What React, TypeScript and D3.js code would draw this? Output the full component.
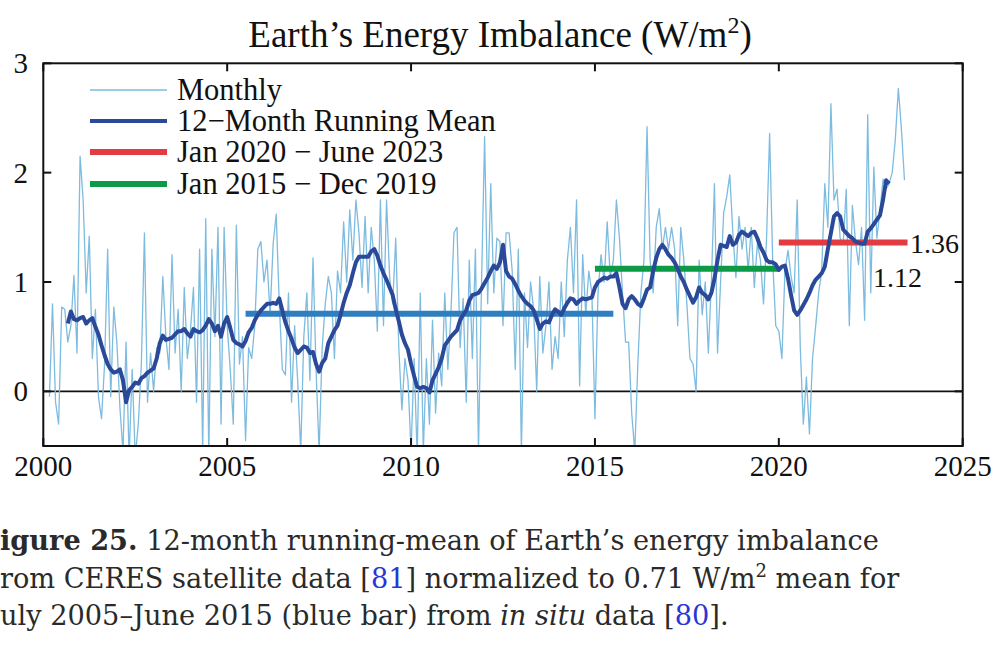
import React from "react";
import * as d3 from "d3";

// ---------- DATA ----------
// Monthly values, March 2000 .. June 2023 (W/m^2)
const monthlyStart = { year: 2000, month: 3 };
const monthly2000 = [-0.05, 0.8, -0.1, -0.3, 0.77, 0.75, 0.45, 0.6, 1.06, 0.35];
const monthly2001 = [2.15, 1.75, 0.9, 1.42, 0.3, 0.75, -0.05, -0.25, 0.25, 1.3, -0.05, 0.77];
const monthly2002 = [0.45, -0.15, -0.55, 0.45, -0.6, 0.2, -0.6, -0.3, 0.25, 1.45, -0.1, 0.35];
const monthly2003 = [0.0, 0.4, 0.35, 1.05, 0.5, 0.2, 1.25, 0.35, 0.75, 0.0, 0.95, 0.3];
const monthly2004 = [0.55, 0.95, -0.1, 1.3, -0.55, 1.58, -0.6, 1.3, 0.5, 1.5, -0.3, 1.5];
const monthly2005 = [0.6, 0.2, -0.3, 1.52, 0.25, 0.5, -0.45, 0.4, 0.3, 0.6, 1.3, 1.37];
const monthly2006 = [1.0, 1.2, 0.7, 1.35, 1.62, 0.8, 0.2, 0.15, 0.9, -0.1, 0.6, 0.1];
const monthly2007 = [-0.55, 0.5, 0.9, 0.1, 1.22, 0.2, -0.55, 0.4, 0.8, 1.05, 0.9, 0.3];
const monthly2008 = [1.1, 0.9, 1.55, 1.0, 1.66, 1.2, 1.75, 1.45, 0.95, 1.6, 0.9, 1.5];
const monthly2009 = [1.2, 0.55, 1.75, 0.6, 1.75, 1.05, 0.8, 1.4, 0.4, -0.17, 0.3, 0.1];
const monthly2010 = [-0.55, 0.3, -0.6, 0.9, -0.55, 0.3, -0.3, 0.65, -0.2, 0.35, 0.05, 0.9];
const monthly2011 = [0.2, 0.7, 1.45, 1.5, 0.4, 0.85, -0.1, 1.2, 0.3, 1.3, -0.55, 1.0];
const monthly2012 = [2.33, 0.8, 1.9, 0.9, 1.4, 1.37, 0.6, 1.45, 1.45, 1.1, 0.2, 1.3];
const monthly2013 = [-0.55, 0.9, 0.4, 1.0, 0.75, 0.0, 1.05, 0.35, 0.6, 1.0, 0.2, 0.5];
const monthly2014 = [0.3, 1.0, 0.5, 1.2, 1.5, 0.9, 1.75, 0.05, 1.25, 0.7, 1.1, 0.9];
const monthly2015 = [-0.25, 0.9, 1.25, 1.0, 1.55, 1.05, 1.2, 1.75, 1.4, 0.9, 0.45, 0.45];
const monthly2016 = [-0.2, -0.55, 0.25, 0.9, 1.2, 2.42, 1.2, 0.9, 1.5, 1.67, 1.3, 1.5];
const monthly2017 = [1.3, 1.5, 1.3, 0.6, 1.5, 1.2, 0.8, 0.3, 0.25, 0.0, 1.2, 0.7];
const monthly2018 = [1.0, 0.35, 1.0, 1.9, 0.35, 1.0, 1.63, 1.78, 1.98, 1.45, 1.04, 1.6];
const monthly2019 = [1.3, 1.5, 1.1, 1.5, 0.95, 1.35, 1.2, 0.8, 1.4, 2.36, 1.2, 0.6];
const monthly2020 = [0.55, 0.3, 1.1, 1.29, 1.05, 0.9, 1.75, 0.4, -0.3, 0.13, -0.39, 0.3];
const monthly2021 = [0.59, 0.9, 1.1, 1.9, 1.5, 2.63, 1.75, 1.85, 1.4, 1.35, 1.85, 0.6];
const monthly2022 = [1.7, 1.38, 1.16, 1.5, 0.65, 2.53, 0.9, 2.05, 1.4, 1.65, 1.94, 1.85];
const monthly2023 = [1.9, 2.0, 2.3, 2.77, 2.4, 1.93];

// 12-month running mean, September 2000 .. January 2023
const meanStart = { year: 2000, month: 9 };
const mean2000 = [0.62, 0.73, 0.66, 0.65];
const mean2001 = [0.67, 0.68, 0.62, 0.65, 0.67, 0.59, 0.52, 0.42, 0.33, 0.25, 0.2, 0.17];
const mean2002 = [0.18, 0.2, 0.1, -0.1, 0.01, 0.04, 0.08, 0.07, 0.12, 0.14, 0.17, 0.19];
const mean2003 = [0.21, 0.3, 0.44, 0.51, 0.47, 0.48, 0.49, 0.52, 0.55, 0.55, 0.57, 0.53];
const mean2004 = [0.5, 0.57, 0.55, 0.54, 0.56, 0.6, 0.66, 0.62, 0.55, 0.6, 0.5, 0.62];
const mean2005 = [0.68, 0.58, 0.47, 0.44, 0.43, 0.41, 0.46, 0.54, 0.58, 0.65, 0.7, 0.74];
const mean2006 = [0.77, 0.8, 0.8, 0.81, 0.8, 0.85, 0.74, 0.63, 0.55, 0.48, 0.4, 0.35];
const mean2007 = [0.38, 0.41, 0.4, 0.35, 0.36, 0.25, 0.18, 0.26, 0.3, 0.44, 0.5, 0.56];
const mean2008 = [0.6, 0.7, 0.81, 0.9, 0.97, 1.08, 1.18, 1.23, 1.23, 1.23, 1.23, 1.28];
const mean2009 = [1.3, 1.24, 1.15, 1.08, 1.02, 0.95, 0.88, 0.75, 0.64, 0.52, 0.44, 0.38];
const mean2010 = [0.25, 0.14, 0.04, 0.03, 0.04, 0.03, -0.01, 0.1, 0.16, 0.22, 0.3, 0.42];
const mean2011 = [0.46, 0.5, 0.53, 0.56, 0.65, 0.7, 0.74, 0.83, 0.88, 0.89, 0.9, 0.94];
const mean2012 = [0.99, 1.04, 1.1, 1.15, 1.12, 1.18, 1.34, 1.1, 1.05, 1.03, 0.98, 0.92];
const mean2013 = [0.87, 0.83, 0.8, 0.78, 0.74, 0.66, 0.57, 0.62, 0.64, 0.63, 0.7, 0.75];
const mean2014 = [0.73, 0.7, 0.76, 0.81, 0.85, 0.84, 0.8, 0.83, 0.85, 0.84, 0.85, 0.86];
const mean2015 = [0.95, 1.0, 1.02, 1.04, 1.03, 1.05, 1.05, 1.08, 0.95, 0.8, 0.76, 0.84];
const mean2016 = [0.87, 0.84, 0.8, 0.78, 0.85, 0.93, 0.95, 1.1, 1.22, 1.3, 1.34, 1.3];
const mean2017 = [1.25, 1.22, 1.18, 1.12, 1.05, 1.0, 0.93, 0.87, 0.81, 0.86, 0.95, 0.9];
const mean2018 = [0.88, 0.84, 0.9, 1.03, 1.2, 1.34, 1.33, 1.32, 1.42, 1.34, 1.36, 1.43];
const mean2019 = [1.46, 1.44, 1.42, 1.45, 1.46, 1.4, 1.32, 1.27, 1.2, 1.18, 1.18, 1.16];
const mean2020 = [1.11, 1.14, 1.15, 1.03, 0.88, 0.74, 0.7, 0.74, 0.79, 0.84, 0.9, 0.97];
const mean2021 = [1.02, 1.05, 1.08, 1.14, 1.3, 1.45, 1.6, 1.63, 1.6, 1.48, 1.45, 1.42];
const mean2022 = [1.4, 1.37, 1.36, 1.35, 1.35, 1.46, 1.49, 1.53, 1.57, 1.61, 1.75, 1.93];
const mean2023 = [1.9];

// Period means (horizontal bars)
const periodLabels = ["July 2005 - June 2015", "Jan 2015 - Dec 2019", "Jan 2020 - June 2023"];
const periodStarts = [2005.5, 2015.0, 2020.0];
const periodEnds = [2015.5, 2020.0, 2023.5];
const periodValues = [0.71, 1.12, 1.36];
const periodColors = ["#2f7fc0", "#0d9a46", "#e23c42"];

const xTicks = [2000, 2005, 2010, 2015, 2020, 2025];
const yTicks = [0, 1, 2, 3];

const legendLabels = ["Monthly", "12\u2212Month Running Mean", "Jan 2020 \u2212 June 2023", "Jan 2015 \u2212 Dec 2019"];

// ---------- BUILD SERIES ----------
const monthlyValues = [
  monthly2000, monthly2001, monthly2002, monthly2003, monthly2004, monthly2005, monthly2006,
  monthly2007, monthly2008, monthly2009, monthly2010, monthly2011, monthly2012, monthly2013,
  monthly2014, monthly2015, monthly2016, monthly2017, monthly2018, monthly2019, monthly2020,
  monthly2021, monthly2022, monthly2023,
].flat();
const meanValues = [
  mean2000, mean2001, mean2002, mean2003, mean2004, mean2005, mean2006, mean2007, mean2008,
  mean2009, mean2010, mean2011, mean2012, mean2013, mean2014, mean2015, mean2016, mean2017,
  mean2018, mean2019, mean2020, mean2021, mean2022, mean2023,
].flat();

const toSeries = (start: { year: number; month: number }, vals: number[]) =>
  vals.map((v, i) => ({ t: start.year + (start.month - 1 + i) / 12, v }));

const monthlySeries = toSeries(monthlyStart, monthlyValues);
const meanSeries = toSeries(meanStart, meanValues);

// ---------- LAYOUT ----------
const W = 1000;
const H = 669;
const left = 43.3;
const right = 962.7;
const top = 63.3;
const bottom = 446;

const SERIF = "'Liberation Serif', 'Times New Roman', serif";

export default function App() {
  const x = d3.scaleLinear().domain([2000, 2025]).range([left, right]);
  const y = d3.scaleLinear().domain([-0.5, 3]).range([bottom, top]);

  const line = d3
    .line<{ t: number; v: number }>()
    .x((d) => x(d.t))
    .y((d) => y(d.v));

  const tickLen = 8;
  const legendX0 = 90;
  const legendX1 = 167;
  const legendTextX = 177;
  const legendRowY = [90, 121, 152, 184];
  const legendStyles = [
    { color: "#7dbbdf", width: 1.5 },
    { color: "#2b4999", width: 4 },
    { color: periodColors[2], width: 6 },
    { color: periodColors[1], width: 6 },
  ];

  return (
    <svg
      width={W}
      height={H}
      viewBox={`0 0 ${W} ${H}`}
      style={{ position: "absolute", left: 0, top: 0, background: "#ffffff" }}
    >
      <defs>
        <clipPath id="plotClip">
          <rect x={left} y={top} width={right - left} height={bottom - top} />
        </clipPath>
      </defs>
      <rect x={0} y={0} width={W} height={H} fill="#ffffff" />

      {/* Title */}
      <text x={500} y={47} textAnchor="middle" fontFamily={SERIF} fontSize={37} fill="#111">
        Earth’s Energy Imbalance (W/m
        <tspan dy={-14} fontSize={24}>2</tspan>
        <tspan dy={14}>)</tspan>
      </text>

      {/* zero line */}
      <line x1={left} x2={right} y1={y(0)} y2={y(0)} stroke="#111" strokeWidth={1.6} />

      <g clipPath="url(#plotClip)">
        <path d={line(monthlySeries) ?? ""} fill="none" stroke="#7dbbdf" strokeWidth={1.3} strokeLinejoin="round" />
      </g>

      {/* period mean bars */}
      {periodValues.map((v, i) => (
        <line
          key={periodLabels[i]}
          x1={x(periodStarts[i])}
          x2={x(periodEnds[i])}
          y1={y(v)}
          y2={y(v)}
          stroke={periodColors[i]}
          strokeWidth={6}
        />
      ))}

      <path d={line(meanSeries) ?? ""} fill="none" stroke="#2b4999" strokeWidth={4} strokeLinejoin="round" />

      {/* value labels */}
      <text x={910} y={253} fontFamily={SERIF} fontSize={28} fill="#111">
        {periodValues[2].toFixed(2)}
      </text>
      <text x={873} y={287} fontFamily={SERIF} fontSize={28} fill="#111">
        {periodValues[1].toFixed(2)}
      </text>

      {/* frame */}
      <rect x={left} y={top} width={right - left} height={bottom - top} fill="none" stroke="#111" strokeWidth={2} />

      {/* x ticks */}
      {xTicks.map((t) => (
        <g key={`xt${t}`}>
          <line x1={x(t)} x2={x(t)} y1={bottom} y2={bottom - tickLen} stroke="#111" strokeWidth={2} />
          <line x1={x(t)} x2={x(t)} y1={top} y2={top + tickLen} stroke="#111" strokeWidth={2} />
          <text x={x(t)} y={476} textAnchor="middle" fontFamily={SERIF} fontSize={29} fill="#111">
            {t}
          </text>
        </g>
      ))}

      {/* y ticks */}
      {yTicks.map((t) => (
        <g key={`yt${t}`}>
          <line x1={left} x2={left + tickLen} y1={y(t)} y2={y(t)} stroke="#111" strokeWidth={2} />
          <line x1={right} x2={right - tickLen} y1={y(t)} y2={y(t)} stroke="#111" strokeWidth={2} />
          <text x={28} y={y(t) + 10} textAnchor="end" fontFamily={SERIF} fontSize={29} fill="#111">
            {t}
          </text>
        </g>
      ))}

      {/* legend */}
      {legendLabels.map((lab, i) => (
        <g key={lab}>
          <line
            x1={legendX0}
            x2={legendX1}
            y1={legendRowY[i]}
            y2={legendRowY[i]}
            stroke={legendStyles[i].color}
            strokeWidth={legendStyles[i].width}
          />
          <text x={legendTextX} y={legendRowY[i] + 10} fontFamily={SERIF} fontSize={30.5} fill="#111">
            {lab}
          </text>
        </g>
      ))}

      {/* caption */}
      <g fontFamily="'DejaVu Serif', serif" fontSize={27.2} fill="#2a2a2a">
        <text x={0} y={550}>
          <tspan fontWeight="bold">igure 25.</tspan>
          <tspan> 12-month running-mean of Earth’s energy imbalance</tspan>
        </text>
        <text x={0} y={588}>
          rom CERES satellite data [<tspan fill="#2b35d6">81</tspan>] normalized to 0.71 W/m
          <tspan dy={-11} fontSize={18}>2</tspan>
          <tspan dy={11}> mean for</tspan>
        </text>
        <text x={0} y={625}>
          uly 2005–June 2015 (blue bar) from <tspan fontStyle="italic">in situ</tspan> data [
          <tspan fill="#2b35d6">80</tspan>].
        </text>
      </g>
    </svg>
  );
}
